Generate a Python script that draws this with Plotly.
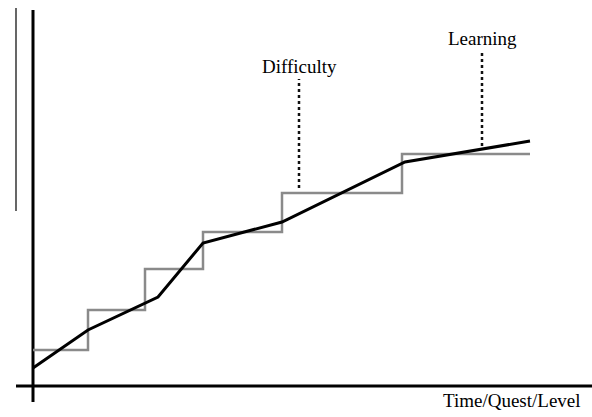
import plotly.graph_objects as go

# Difficulty (step function): step start positions and levels
diff_x = [0, 55, 112, 170, 249, 369, 497]
diff_y = [36, 76, 117, 154, 193, 232, 232]

# Learning curve points
learn_x = [0, 55, 125, 170, 249, 372, 497]
learn_y = [18, 56, 89, 143, 164, 224, 245]

# Pointer lines for labels
difficulty_ptr_x = [266, 266]
difficulty_ptr_y = [198, 307]
learning_ptr_x = [449, 449]
learning_ptr_y = [240, 336]

# Axis extents
yaxis_line_x = [0, 0]
yaxis_line_y = [-16, 376]
xaxis_line_x = [-17, 559]
xaxis_line_y = [0, 0]
stray_x = [-17, -17]
stray_y = [175, 378]

labels = ["Difficulty", "Learning", "Time/Quest/Level"]

fig = go.Figure()
fig.add_trace(go.Scatter(x=stray_x, y=stray_y, mode="lines",
                         line=dict(color="black", width=1.2), hoverinfo="skip"))
fig.add_trace(go.Scatter(x=yaxis_line_x, y=yaxis_line_y, mode="lines",
                         line=dict(color="black", width=3), hoverinfo="skip"))
fig.add_trace(go.Scatter(x=xaxis_line_x, y=xaxis_line_y, mode="lines",
                         line=dict(color="black", width=3), hoverinfo="skip"))
fig.add_trace(go.Scatter(x=diff_x, y=diff_y, mode="lines", line_shape="hv",
                         line=dict(color="#8a8a8a", width=2.5)))
fig.add_trace(go.Scatter(x=learn_x, y=learn_y, mode="lines",
                         line=dict(color="black", width=3)))
fig.add_trace(go.Scatter(x=difficulty_ptr_x, y=difficulty_ptr_y, mode="lines",
                         line=dict(color="#111", width=2.5, dash="dot")))
fig.add_trace(go.Scatter(x=learning_ptr_x, y=learning_ptr_y, mode="lines",
                         line=dict(color="#111", width=2.5, dash="dot")))

font = dict(family="Liberation Serif, Times New Roman, serif", size=19, color="black")
fig.add_annotation(x=266, y=320, text=labels[0], showarrow=False, font=font,
                   xanchor="center", yanchor="middle")
fig.add_annotation(x=449, y=348, text=labels[1], showarrow=False, font=font,
                   xanchor="center", yanchor="middle")
fig.add_annotation(x=550, y=-14, text=labels[2], showarrow=False, font=font,
                   xanchor="right", yanchor="middle")

fig.update_layout(
    width=592, height=417,
    margin=dict(l=0, r=0, t=0, b=0),
    paper_bgcolor="white", plot_bgcolor="white",
    showlegend=False,
    xaxis=dict(range=[-33, 559], visible=False, fixedrange=True),
    yaxis=dict(range=[-31, 386], visible=False, fixedrange=True),
)
fig.write_html("out.html", config={"displayModeBar": False},
               post_script="document.body.style.margin='0';document.body.style.overflow='hidden';")
